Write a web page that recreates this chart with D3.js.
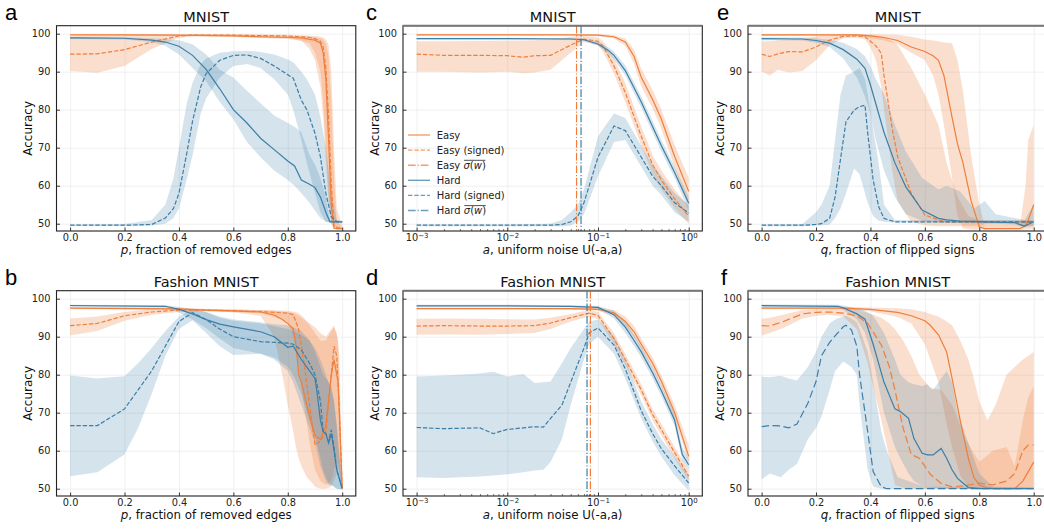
<!DOCTYPE html>
<html>
<head>
<meta charset="utf-8">
<title>Accuracy under perturbation</title>
<script src="https://d3js.org/d3.v7.min.js"></script>
<style>
  body { margin: 0; background: #fff; }
  svg { display: block; font-family: "DejaVu Sans", sans-serif; }
</style>
</head>
<body>
<svg width="1044" height="529"></svg>
<script>

// rows are [x, mean, low, high] (accuracy in %)

// a: MNIST, fraction of removed edges
var aEasy = [[0,99.7,99.5,99.9],[0.2,99.7,99.5,99.9],[0.4,99.6,99.4,99.8],[0.6,99.4,99.1,99.7],[0.8,99.0,98.6,99.4],[0.85,98.9,98.2,99.3],[0.88,98.5,96,99.2],[0.9,98.3,93,99.1],[0.92,97.5,86,98.8],[0.93,95,78,98.5],[0.94,88,66,97.5],[0.95,72,56,94],[0.96,55,50,82],[0.97,48.8,48.6,62],[0.98,48.7,48.5,51],[1.0,48.7,48.5,49]];
var aEasySigned = [[0,94.6,90.2,99.3],[0.1,94.7,89.7,99.5],[0.2,95.8,91.5,99.6],[0.3,97.8,96,99.7],[0.4,99.4,98.9,99.8],[0.45,99.6,99.3,99.9],[0.6,99.6,99.3,99.9],[0.8,99.4,99.0,99.7],[0.88,99.0,97.5,99.5],[0.9,98.7,95,99.4],[0.92,98,90,99.2],[0.93,96.5,82,99],[0.94,91,70,98.5],[0.95,78,58,97],[0.96,60,50,90],[0.97,49.5,48.8,70],[0.98,49,48.6,54],[1.0,48.8,48.5,49.5]];
var aHard = [[0,98.9,98.6,99.1],[0.2,98.8,98.5,99.0],[0.3,98.3,97.8,98.8],[0.35,97.8,96.8,98.6],[0.4,96.7,94.5,98.3],[0.45,94.3,91,97.2],[0.5,90.6,87.5,94.5],[0.55,85.5,82,90.5],[0.6,80,77.5,88.5],[0.65,76.5,71.5,85],[0.7,72.5,67.5,81.7],[0.75,69.5,64,78.5],[0.8,66.5,61.5,76.5],[0.825,65.2,60,75.5],[0.85,61.5,58,74],[0.88,60.4,55.5,68],[0.9,59.5,53.5,65.5],[0.92,57,51.5,62],[0.94,53,50.5,57],[0.955,50.5,50.3,51],[1.0,50.5,50.3,50.7]];
var aHardSigned = [[0,49.6,49.4,49.8],[0.2,49.6,49.4,49.9],[0.3,49.8,49.5,51],[0.35,51.5,50,55],[0.38,54,51.5,62],[0.4,58,54,70],[0.43,69,62,82],[0.45,77,68,87],[0.48,86,79,92],[0.5,89.5,83,93.5],[0.55,93,88.5,95],[0.6,94.3,91.5,95.4],[0.65,94.4,92,95.5],[0.7,93.5,91,95.2],[0.75,91.5,88,94.5],[0.8,89.2,84,93.2],[0.82,88.3,80,92.5],[0.85,82.5,72,90],[0.87,80,66,88],[0.9,73.8,58,84],[0.92,67.6,53,78],[0.94,58,50.5,70],[0.96,51.8,50.3,58],[0.98,50.5,50.3,51],[1.0,50.5,50.3,50.7]];

// b: Fashion MNIST, fraction of removed edges
var bEasy = [[0,97.5,97.2,97.8],[0.4,97.3,97.0,97.6],[0.5,97.0,96.7,97.3],[0.6,96.8,96.4,97.2],[0.7,96.5,95.5,97],[0.75,95.7,90,96.8],[0.78,94.5,80,96.6],[0.8,93.5,72,96.5],[0.82,92,65,96.3],[0.83,88,61,96],[0.84,80,58,95.5],[0.85,78,56,95],[0.87,72,53,94],[0.89,66.5,51.5,93],[0.9,64,50.5,92.5],[0.92,63,50,91],[0.94,66.5,50,90],[0.96,80,50.5,92],[0.97,84,52,93],[0.985,78,55,89],[1.0,50,49.5,51]];
var bEasySigned = [[0,92.9,90.3,94.8],[0.1,93.5,91.5,95.3],[0.2,95.5,94.2,96.5],[0.3,96.5,95.8,97.2],[0.4,97.0,96.5,97.4],[0.5,97.0,96.7,97.3],[0.7,96.6,96.2,97.0],[0.8,96.2,94,96.8],[0.82,95.8,90,96.6],[0.84,92,82,96.2],[0.86,83,72,95],[0.88,72,62,93],[0.9,61.5,55,91],[0.92,62.5,52,89],[0.94,65,51,89],[0.96,80,52,91.5],[0.97,87.5,55,92.5],[0.98,85,58,91],[0.99,70,55,85],[1.0,50,49.5,52]];
var bHard = [[0,98.2,97.9,98.4],[0.35,98.0,97.7,98.3],[0.4,97.2,96.3,97.8],[0.45,96.0,94.5,97.2],[0.5,94.5,92.2,96.4],[0.55,93.3,89.5,95.3],[0.6,92.6,87,94.5],[0.7,91.3,85.5,93.8],[0.75,90.0,84,93.3],[0.8,87.2,81,93],[0.82,87.5,78,92.5],[0.85,84,72,91.5],[0.88,81,66,89],[0.9,79,62,86],[0.91,74,59,84],[0.92,68,56,82],[0.93,65,54,80],[0.94,64.5,52,79],[0.95,62,51,78],[0.96,64.5,51,77],[0.97,60,50.5,73],[0.98,55,50,67],[1.0,50,49.8,50.5]];
var bHardSigned = [[0,66.6,53.3,79.8],[0.1,66.6,54.3,79.0],[0.2,71,59,79.6],[0.25,76,66,83],[0.3,81,75,87],[0.35,87.5,85,91.5],[0.4,94,92,95.3],[0.45,96.3,94.3,97.2],[0.5,94.5,91,96.5],[0.55,92,87.5,95],[0.6,90,85.2,94.2],[0.7,88.7,85.5,93.5],[0.75,88.5,84.5,92.8],[0.8,88.3,82,92],[0.82,88,80,91.5],[0.85,86.5,75,90.5],[0.88,83,68,89],[0.9,80,64,87],[0.92,73,58,84],[0.93,65,55,82],[0.94,64.5,53,80],[0.95,62.5,51.5,78],[0.96,65.5,51,76],[0.97,61,50.5,73],[0.98,55,50,66],[1.0,50,49.8,50.5]];

// c: MNIST, uniform noise amplitude a
var cEasy = [[0.001,99.7,99.5,99.9],[0.01,99.7,99.5,99.9],[0.05,99.7,99.5,99.9],[0.1,99.6,99.3,99.9],[0.15,99.2,98.7,99.6],[0.2,97.8,96.8,98.7],[0.25,94,92,95.8],[0.3,88.5,86.2,90.8],[0.4,82.7,80.3,85.2],[0.5,77.5,75,80],[0.7,67.7,64.7,70.7],[1.0,58.5,55,62]];
var cEasySigned = [[0.001,94.6,90,98],[0.002,94.3,90,98],[0.005,94.3,89.8,98.1],[0.01,94.2,90,98.2],[0.015,93.8,89.6,98.2],[0.02,94.2,89.8,98.3],[0.03,94.3,90.5,98.5],[0.05,97,95,99.2],[0.07,98.6,97.8,99.4],[0.1,98,97,99],[0.114,96.7,95.2,98],[0.15,91.5,89.5,93.5],[0.2,84.5,82,87],[0.3,73,70.5,75.5],[0.4,65.5,63,68],[0.5,61.5,59,64],[0.7,56.5,54,59],[1.0,52,50,54.5]];
var cHard = [[0.001,98.7,98.5,98.9],[0.01,98.7,98.5,98.9],[0.05,98.6,98.4,98.8],[0.07,98.4,98.1,98.7],[0.1,97.3,96.8,97.8],[0.13,95.6,94.8,96.4],[0.15,94.3,93.2,95.3],[0.2,90.3,89,91.6],[0.3,82,80.5,83.5],[0.4,75.5,74,77],[0.5,70.5,69,72],[0.7,63.5,62,65],[1.0,55.4,53.5,57]];
var cHardSigned = [[0.001,49.6,49.3,49.8],[0.01,49.6,49.3,49.8],[0.03,49.6,49.3,50],[0.04,49.8,49.3,51],[0.05,50.5,49.5,53],[0.06,52,50.5,55],[0.07,55.5,52.5,59],[0.1,67.5,62.5,73],[0.15,75.7,71.5,79],[0.2,74.5,72,77.8],[0.3,67.5,65,70.5],[0.4,62.5,60,65.5],[0.5,60,57.5,62.5],[0.7,55.5,53,58],[1.0,52.8,50.5,55]];

// d: Fashion MNIST, uniform noise amplitude a
var dEasy = [[0.001,97.4,97.2,97.7],[0.01,97.4,97.2,97.7],[0.05,97.4,97.1,97.7],[0.1,97.2,96.8,97.6],[0.15,96.3,95.6,97],[0.2,94,92.7,95.3],[0.25,91.3,89.8,92.8],[0.3,88,86.5,89.5],[0.4,83,81.5,84.5],[0.5,78.3,76.8,79.8],[0.7,70,68.3,72],[1.0,58.5,57,61.5]];
var dEasySigned = [[0.001,92.8,90.5,94.7],[0.002,92.9,90.6,94.8],[0.005,92.8,90.5,94.7],[0.01,92.8,90.7,94.6],[0.02,92.9,91,94.5],[0.03,93.6,92,95],[0.05,95,94,96],[0.08,96.2,95.3,97],[0.1,95.6,94.6,96.5],[0.15,89.5,88,91],[0.2,84,82.5,85.5],[0.3,76,74.5,77.5],[0.4,69.5,68,71],[0.5,65.5,64,67],[0.7,59.5,58,61],[1.0,53.3,52,54.8]];
var dHard = [[0.001,98.1,97.9,98.4],[0.01,98.1,97.9,98.4],[0.05,98.0,97.8,98.3],[0.1,97.7,97.3,98.1],[0.15,95.8,94.8,96.8],[0.2,92.5,91,94],[0.25,89,87.5,90.5],[0.3,86,84.5,87.5],[0.4,80.5,79,82],[0.5,75.8,74.3,77.3],[0.7,68,66.5,69.5],[0.85,59,57.5,61],[1.0,56.3,55,58]];
var dHardSigned = [[0.001,66.1,53,79.5],[0.002,65.8,52.8,79.8],[0.003,65.9,53,80],[0.005,66,53.2,80.3],[0.007,64.5,53.5,80.8],[0.01,65.6,53.8,79.5],[0.015,66,54.3,80.2],[0.02,66.3,54.8,77.8],[0.025,66.2,55,78],[0.03,68.5,57,78.2],[0.04,72,63,83],[0.05,78,72,87],[0.07,87,84,92],[0.08,91,88,94],[0.1,92.3,90,94.5],[0.15,87.8,85.5,90.2],[0.2,81.5,79,84],[0.3,70.5,68.5,73],[0.4,64.5,62.5,67],[0.5,60.5,58.5,63],[0.7,56,53.5,58.5],[1.0,51.5,49.5,53.5]];

// e: MNIST, fraction of flipped signs
var eEasy = [[0,99.7,99.4,99.9],[0.35,99.7,99.4,99.9],[0.4,99.4,98.8,99.9],[0.45,99,98.2,99.8],[0.5,98.2,97.2,99.7],[0.55,96.5,95,99.2],[0.6,95.3,93,98.5],[0.63,94.2,89,98.2],[0.65,93,84,98],[0.67,89,76,97.7],[0.7,78,62,97.5],[0.72,71,52,93],[0.74,66,48.8,85],[0.77,56,48.5,68],[0.8,49.2,48.5,55],[0.82,48.7,48.5,49.5],[0.95,48.7,48.5,49.5],[0.97,49.5,48.5,60],[0.98,51,48.5,72],[1.0,55,48.6,76]];
var eEasySigned = [[0,94.6,90,98],[0.03,94,89,98],[0.06,94.7,90.5,98.2],[0.1,95.3,89.8,98.5],[0.15,95.2,90.2,98.8],[0.2,96.5,93,99.3],[0.25,98.3,97,99.5],[0.3,99.3,98.8,99.7],[0.35,99.4,99,99.7],[0.38,99.2,98.5,99.7],[0.4,98,96.5,99.6],[0.42,96.8,93,99.5],[0.44,94.8,86,99.3],[0.45,89,80,99],[0.48,75,64,98],[0.5,67.6,56,97],[0.55,58,50.5,91],[0.6,52.3,49.5,84],[0.65,51,49.3,76],[0.68,50.5,49.3,66],[0.72,50.5,49.3,57],[0.76,50.5,49.3,52],[0.8,50.5,49.3,51],[1.0,50.5,49.3,51]];
var eHard = [[0,98.7,98.3,99.0],[0.15,98.6,98.2,99.0],[0.2,98.2,97.6,98.8],[0.25,97.5,96.5,98.4],[0.3,95.8,93.5,97.6],[0.35,93.3,88.5,96],[0.38,90.9,83.5,94],[0.4,86.5,79,91.5],[0.42,81.5,72,88],[0.45,74,64,84],[0.49,66,57,76],[0.53,59.7,52.5,69],[0.59,53.6,50.8,62],[0.65,51.4,50.4,59],[0.68,51,50.3,60],[0.73,50.7,50.2,58.5],[0.78,50.6,50.1,54],[0.82,50.5,50,56],[0.86,50.4,50,52.5],[0.93,50.3,49.8,51.5],[0.966,49.4,49,51],[1.0,50.5,49.5,55]];
var eHardSigned = [[0,49.6,49.3,49.8],[0.15,49.6,49.3,49.9],[0.2,49.8,49.5,53],[0.22,50,49.6,55],[0.25,51.4,49.7,60],[0.27,57,51.5,72],[0.29,67,54,84],[0.31,76.8,58,89],[0.34,79.9,64.5,90],[0.36,80.8,63,91],[0.38,81.2,58,88],[0.39,73.8,55.5,84],[0.41,61.5,52,75],[0.43,54.5,50.8,66],[0.45,51.4,50.5,55],[0.49,50.5,50.3,51],[1.0,50.5,50.2,50.8]];

// f: Fashion MNIST, fraction of flipped signs
var fEasy = [[0,97.5,97.2,97.8],[0.3,97.5,97.2,97.8],[0.4,97.2,96.7,97.7],[0.5,96.4,95.2,97.5],[0.55,95.5,93.5,97.2],[0.6,94.2,88,96.5],[0.62,93,84,96],[0.65,90.5,78,95.3],[0.68,86,67,94],[0.7,79,61,93],[0.73,68,53.5,89],[0.76,58,50.5,84],[0.78,53,50,79],[0.8,51,50,73],[0.83,50.2,50,68],[0.86,50,50,72],[0.9,50,50,80],[0.93,50,50,82],[0.96,52,50,84],[1.0,57,50,86]];
var fEasySigned = [[0,92.9,90.3,94.7],[0.03,92.8,91,95],[0.08,94,92.3,95.8],[0.15,96,94.8,97],[0.2,96.4,95.5,97.2],[0.25,96.5,95.7,97.3],[0.3,96.2,95.3,97.3],[0.35,95.5,92,97],[0.39,93.5,83,96.3],[0.44,87.8,68,95],[0.47,82,58,93.5],[0.49,76,51,92],[0.52,66,50.3,89],[0.55,59,50,85],[0.58,58,50,80],[0.62,53.8,50,76.5],[0.66,51.4,50,76],[0.7,50.5,50,72],[0.75,50.8,50,63],[0.8,51.5,50,57],[0.85,51,50,60],[0.9,52,50,61],[0.93,54,50,56],[0.96,60,50,68],[0.98,61.5,50,74],[1.0,61.5,50,77]];
var fHard = [[0,98.2,97.8,98.5],[0.28,98,97.7,98.4],[0.3,97.6,97,98.2],[0.35,96,94.5,97.5],[0.38,94.6,91,96.8],[0.41,88,84,95.5],[0.45,78,70,91],[0.49,71,61,84],[0.51,70.3,58,80],[0.54,68.5,54,78],[0.56,63.2,52,77.5],[0.59,59.3,50.8,77],[0.61,58.9,50.3,77.5],[0.63,58.9,50.2,76],[0.66,60.6,50.1,79],[0.68,58,50,81],[0.7,55,50,78],[0.72,52.7,50,70],[0.76,50.3,50,62],[0.8,50,50,54],[0.85,50,50,50.5],[1.0,50,50,50.3]];
var fHardSigned = [[0,66.3,52.4,79.5],[0.03,66.6,54,79.3],[0.07,66.5,53,79.7],[0.1,66,55,79],[0.13,67,56.5,78.5],[0.17,72.5,63,82],[0.2,78.2,66,86],[0.22,85,69,90],[0.25,88.5,76,93.5],[0.27,90.2,81,94.5],[0.3,92.6,83.5,95.3],[0.31,93,83,95.5],[0.33,91.8,82,94.8],[0.35,87.5,80,93.8],[0.36,80,72,92],[0.39,65,55,86],[0.41,54.5,50.5,78],[0.44,50.5,50,65],[0.46,50,50,60],[0.5,50,50,53],[0.6,50,50,50.5],[1.0,50,50,50.3]];

// mean of sigma(w), easy and hard
var cSigma = [0.058, 0.065];
var dSigma = [0.0825, 0.0757];

var linTicks = [0, 0.2, 0.4, 0.6, 0.8, 1.0];
var logTicks = [1e-3, 1e-2, 1e-1, 1];
var yTicks = [50, 60, 70, 80, 90, 100];
var legendLabels = ["Easy", "Easy (signed)", "Easy", "Hard", "Hard (signed)", "Hard"];

var orange = "#f07e3a", blue = "#3b7ea8";
var ink = "#222";

var svg = d3.select("svg");
var rowTop = [25.7, 290.7], axH = 205.3;
var colLeft = [56.5, 403, 748], axW = 299.3;

var panels = [
  {key: "a", col: 0, row: 0, log: false, title: "MNIST", v: "p", rest: ", fraction of removed edges", s: [aEasy, aEasySigned, aHard, aHardSigned], lx: 5},
  {key: "b", col: 0, row: 1, log: false, title: "Fashion MNIST", v: "p", rest: ", fraction of removed edges", s: [bEasy, bEasySigned, bHard, bHardSigned], lx: 5},
  {key: "c", col: 1, row: 0, log: true, title: "MNIST", v: "a", rest: ", uniform noise U(-a,a)", s: [cEasy, cEasySigned, cHard, cHardSigned], sigma: cSigma, legend: true, lx: 366},
  {key: "d", col: 1, row: 1, log: true, title: "Fashion MNIST", v: "a", rest: ", uniform noise U(-a,a)", s: [dEasy, dEasySigned, dHard, dHardSigned], sigma: dSigma, lx: 366},
  {key: "e", col: 2, row: 0, log: false, title: "MNIST", v: "q", rest: ", fraction of flipped signs", s: [eEasy, eEasySigned, eHard, eHardSigned], lx: 717},
  {key: "f", col: 2, row: 1, log: false, title: "Fashion MNIST", v: "q", rest: ", fraction of flipped signs", s: [fEasy, fEasySigned, fHard, fHardSigned], lx: 721, longDash: true}
];

panels.forEach(drawPanel);

function drawPanel(p) {
  var left = colLeft[p.col], top = rowTop[p.row];
  var x = p.log ? d3.scaleLog().domain([Math.pow(10, -3.15), Math.pow(10, 0.15)]) : d3.scaleLinear().domain([-0.05, 1.05]);
  x.range([left, left + axW]);
  var y = d3.scaleLinear().domain([48.08, 102.1]).range([top + axH, top]);
  var xticks = p.log ? logTicks : linTicks;

  var g = svg.append("g");

  // grid
  var gx = g.append("g").attr("transform", "translate(0," + (top + axH) + ")")
      .call(d3.axisBottom(x).tickValues(xticks).tickSize(-axH).tickFormat(""));
  var gy = g.append("g").attr("transform", "translate(" + left + ",0)")
      .call(d3.axisLeft(y).tickValues(yTicks).tickSize(-axW).tickFormat(""));
  [gx, gy].forEach(function(a) {
    a.select(".domain").remove();
    a.selectAll("line").attr("stroke", "#ececec").attr("stroke-width", 0.8);
  });

  svg.append("clipPath").attr("id", "clip-" + p.key)
    .append("rect").attr("x", left).attr("y", top).attr("width", axW).attr("height", axH);
  var plot = g.append("g").attr("clip-path", "url(#clip-" + p.key + ")");

  var colors = [orange, orange, blue, blue];
  var dash = p.longDash ? "7.5,3.5" : "4.4,1.9";
  var dashes = [null, dash, null, dash];

  var area = d3.area()
      .x(function(d) { return x(d[0]); })
      .y0(function(d) { return y(d[2]); })
      .y1(function(d) { return y(d[3]); });
  var line = d3.line()
      .x(function(d) { return x(d[0]); })
      .y(function(d) { return y(d[1]); });

  p.s.forEach(function(s, i) {
    plot.append("path").datum(s)
      .attr("d", area)
      .attr("fill", colors[i])
      .attr("fill-opacity", i < 2 ? 0.25 : 0.22);
  });
  p.s.forEach(function(s, i) {
    plot.append("path").datum(s)
      .attr("d", line)
      .attr("fill", "none")
      .attr("stroke", colors[i])
      .attr("stroke-width", 1.2)
      .attr("stroke-dasharray", dashes[i]);
  });

  if (p.sigma) {
    p.sigma.forEach(function(v, i) {
      plot.append("line")
        .attr("x1", x(v)).attr("x2", x(v))
        .attr("y1", top).attr("y2", top + axH)
        .attr("stroke", i == 0 ? orange : blue)
        .attr("stroke-width", 1.2)
        .attr("stroke-dasharray", "7.7,1.9,1.2,1.9");
    });
  }

  // spines
  g.append("rect").attr("x", left).attr("y", top).attr("width", axW).attr("height", axH)
    .attr("fill", "none").attr("stroke", ink).attr("stroke-width", 1.1);
  if (p.col > 0) {
    g.append("line").attr("x1", left).attr("x2", left + axW).attr("y1", top).attr("y2", top)
      .attr("stroke", "#777").attr("stroke-width", 2);
  }

  // axes
  var xa = g.append("g").attr("transform", "translate(0," + (top + axH) + ")")
      .call(d3.axisBottom(x).tickValues(xticks).tickSizeInner(-3.5).tickSizeOuter(0).tickPadding(3.2)
        .tickFormat(p.log ? function() { return ""; } : d3.format(".1f")));
  if (p.log) {
    xa.selectAll(".tick text").each(function(d) {
      var t = d3.select(this);
      t.append("tspan").text("10");
      t.append("tspan").attr("dy", "-0.45em").style("font-size", "7px").text(String(Math.round(Math.log10(d))).replace("-", "\u2212"));
    });
    var minor = [];
    [1e-3, 1e-2, 1e-1].forEach(function(b) { for (var k = 2; k <= 9; k++) minor.push(b * k); });
    var xm = g.append("g").attr("transform", "translate(0," + (top + axH) + ")")
        .call(d3.axisBottom(x).tickValues(minor).tickSizeInner(-2).tickSizeOuter(0).tickFormat(""));
    xm.select(".domain").remove();
    xm.selectAll("line").attr("stroke", ink).attr("stroke-width", 0.6);
  }
  var ya = g.append("g").attr("transform", "translate(" + left + ",0)")
      .call(d3.axisLeft(y).tickValues(yTicks).tickSizeInner(-3.5).tickSizeOuter(0).tickPadding(6));
  [xa, ya].forEach(function(a) {
    a.select(".domain").remove();
    a.attr("font-family", "DejaVu Sans").attr("font-size", 9.8);
    a.selectAll("line").attr("stroke", ink).attr("stroke-width", 0.9);
    a.selectAll("text").attr("fill", ink);
  });

  // titles and labels
  svg.append("text").attr("x", left + axW / 2).attr("y", top - 4.2)
    .attr("text-anchor", "middle").attr("font-size", 14.5).attr("fill", "#111").text(p.title);
  svg.append("text")
    .attr("transform", "translate(" + (left - 28.5) + "," + (top + axH / 2) + ") rotate(-90)")
    .attr("text-anchor", "middle").attr("dy", "0.35em").attr("font-size", 12).attr("fill", "#111").text("Accuracy");
  var xl = svg.append("text").attr("x", left + axW / 2).attr("y", top + axH + 23.2)
    .attr("text-anchor", "middle").attr("font-size", 11.8).attr("fill", "#111");
  xl.append("tspan").style("font-style", "italic").text(p.v);
  xl.append("tspan").text(p.rest);
  svg.append("text").attr("x", p.lx).attr("y", top - 6)
    .attr("font-family", "Liberation Sans, Arial, sans-serif").attr("font-size", 22).attr("fill", "#000").text(p.key);

  if (p.legend) drawLegend(left, top);
}

function drawLegend(left, top) {
  var lg = svg.append("g").attr("font-size", 10).attr("fill", "#222");
  var styles = [null, "4.4,1.9", "7.7,1.9,1.2,1.9", null, "4.4,1.9", "7.7,1.9,1.2,1.9"];
  legendLabels.forEach(function(lab, i) {
    var cy = top + 109.3 + i * 15.1;
    var col = i < 3 ? orange : blue;
    lg.append("line").attr("x1", left + 5).attr("x2", left + 27).attr("y1", cy).attr("y2", cy)
      .attr("stroke", col).attr("stroke-opacity", 0.75).attr("stroke-width", 1.4)
      .attr("stroke-dasharray", styles[i]);
    var t = lg.append("text").attr("x", left + 33.7).attr("y", cy).attr("dy", "0.35em").text(lab);
    if (i % 3 == 2) {
      var w = t.node().getComputedTextLength() + 3.2;
      var s = lg.append("text").attr("x", left + 33.7 + w).attr("y", cy).attr("dy", "0.35em");
      s.append("tspan").style("font-style", "italic").text("\u03c3");
      s.append("tspan").text("(");
      s.append("tspan").style("font-style", "italic").text("w");
      s.append("tspan").text(")");
      var bb = s.node().getBBox();
      lg.append("line").attr("x1", bb.x + 0.5).attr("x2", bb.x + bb.width - 0.5)
        .attr("y1", bb.y + 0.6).attr("y2", bb.y + 0.6)
        .attr("stroke", "#222").attr("stroke-width", 0.8);
    }
  });
}

</script>
</body>
</html>
